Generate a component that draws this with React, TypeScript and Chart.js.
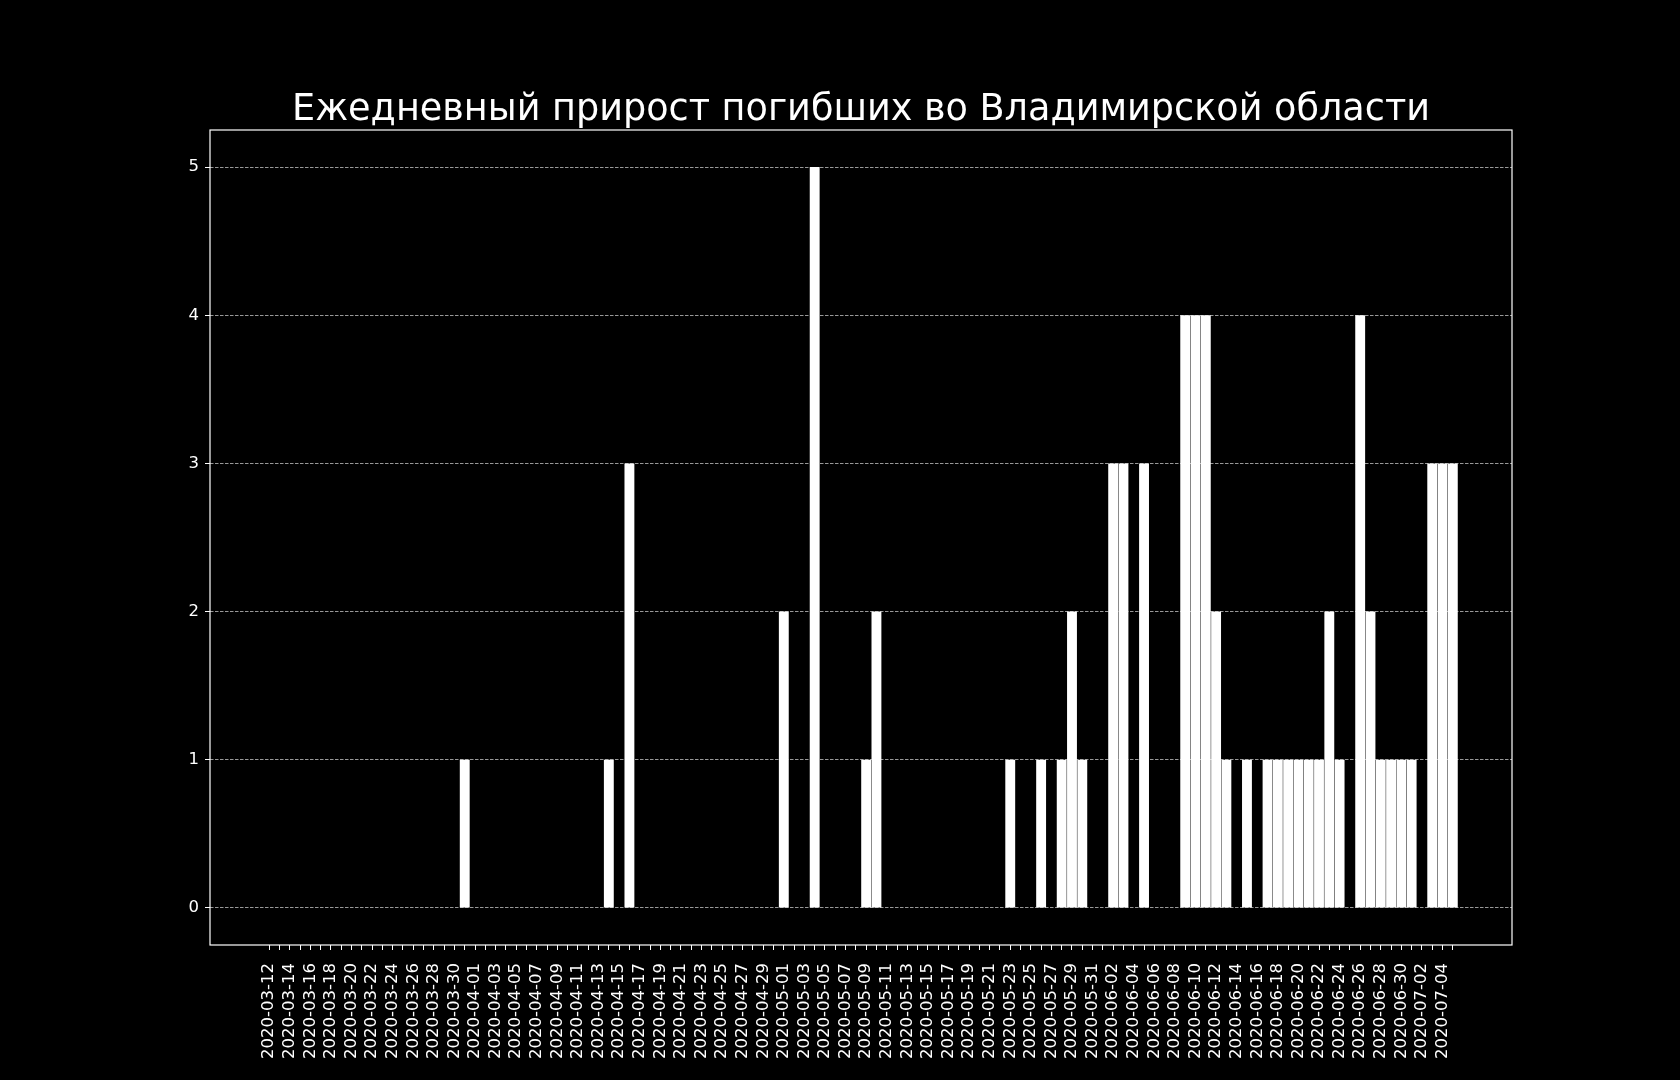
import { useEffect, useRef } from "react";
import { Chart, registerables, type Chart as ChartType } from "chart.js";

Chart.register(...registerables);

const TITLE = "Ежедневный прирост погибших во Владимирской области";
const START_DATE = [2020, 2, 12]; // 2020-03-12 (month is 0-based)
const DAY_COUNT = 116; // through 2020-07-05

// daily increase, one value per day starting 2020-03-12
const deaths = [
  0, 0, 0, 0, 0, 0, 0, 0, 0, 0,
  0, 0, 0, 0, 0, 0, 0, 0, 0, 1,
  0, 0, 0, 0, 0, 0, 0, 0, 0, 0,
  0, 0, 0, 1, 0, 3, 0, 0, 0, 0,
  0, 0, 0, 0, 0, 0, 0, 0, 0, 0,
  2, 0, 0, 5, 0, 0, 0, 0, 1, 2,
  0, 0, 0, 0, 0, 0, 0, 0, 0, 0,
  0, 0, 1, 0, 0, 1, 0, 1, 2, 1,
  0, 0, 3, 3, 0, 3, 0, 0, 0, 4,
  4, 4, 2, 1, 0, 1, 0, 1, 1, 1,
  1, 1, 1, 2, 1, 0, 4, 2, 1, 1,
  1, 1, 0, 3, 3, 3,
];

const yTicks = [0, 1, 2, 3, 4, 5];

const dates: string[] = [];
for (let i = 0; i < DAY_COUNT; i++) {
  const d = new Date(Date.UTC(START_DATE[0], START_DATE[1], START_DATE[2] + i));
  dates.push(d.toISOString().slice(0, 10));
}

const FONT = '"DejaVu Sans", "Liberation Sans", sans-serif';

// frame on all four sides + title centred over the plot area
const framePlugin = {
  id: "frameAndTitle",
  afterDraw: (c: ChartType) => {
    const { ctx, chartArea } = c;
    ctx.save();
    ctx.strokeStyle = "#ffffff";
    ctx.lineWidth = 1.2;
    ctx.strokeRect(chartArea.left, chartArea.top, chartArea.right - chartArea.left, chartArea.bottom - chartArea.top);
    ctx.fillStyle = "#ffffff";
    ctx.font = `36.6px ${FONT}`;
    ctx.textAlign = "center";
    ctx.textBaseline = "alphabetic";
    ctx.fillText(TITLE, (chartArea.left + chartArea.right) / 2, 120);
    ctx.restore();
  },
};

export default function App() {
  const canvasRef = useRef<HTMLCanvasElement | null>(null);

  useEffect(() => {
    const el = canvasRef.current;
    if (!el) return;

    const c = new Chart(el, {
      type: "bar",
      data: {
        datasets: [
          {
            label: "deaths",
            data: deaths.map((v, i) => ({ x: i, y: v })),
            backgroundColor: "#ffffff",
            borderWidth: 0,
            categoryPercentage: 1,
            barPercentage: 0.96,
          },
        ],
      },
      options: {
        animation: false,
        responsive: false,
        devicePixelRatio: 1,
        layout: { padding: { top: 130, right: 168, left: 0, bottom: 0 } },
        plugins: { legend: { display: false }, tooltip: { enabled: false }, title: { display: false } },
        scales: {
          x: {
            type: "linear",
            offset: false,
            min: -5.75,
            max: DAY_COUNT - 1 + 5.75,
            afterBuildTicks: (s: any) => {
              s.ticks = dates.map((_, i) => ({ value: i }));
            },
            afterFit: (s: any) => {
              s.height = 135;
            },
            ticks: {
              autoSkip: false,
              minRotation: 90,
              maxRotation: 90,
              padding: 13,
              color: "#ffffff",
              font: { family: FONT, size: 16.5 },
              callback: (v: any) => (Number(v) % 2 === 0 ? dates[Number(v)] : ""),
            },
            grid: {
              display: true,
              offset: false,
              drawOnChartArea: false,
              drawTicks: true,
              tickLength: 5,
              tickColor: "#ffffff",
              tickWidth: 1,
            },
            border: { display: false },
          },
          y: {
            type: "linear",
            min: -0.25,
            max: 5.25,
            afterBuildTicks: (s: any) => {
              s.ticks = yTicks.map((v) => ({ value: v }));
            },
            afterFit: (s: any) => {
              s.width = 210;
            },
            ticks: {
              padding: 6,
              color: "#ffffff",
              font: { family: FONT, size: 16.5 },
            },
            grid: {
              display: true,
              drawOnChartArea: true,
              drawTicks: true,
              tickLength: 5,
              color: "rgba(255,255,255,0.75)",
              lineWidth: 0.8,
              tickColor: "#ffffff",
              tickWidth: 1,
            },
            border: { display: false, dash: [3.5, 1.5] },
          },
        },
      },
      plugins: [framePlugin],
    });

    return () => c.destroy();
  }, []);

  return (
    <div style={{ position: "absolute", left: 0, top: 0, width: 1680, height: 1080, background: "#000000" }}>
      <canvas ref={canvasRef} width={1680} height={1080} />
    </div>
  );
}
